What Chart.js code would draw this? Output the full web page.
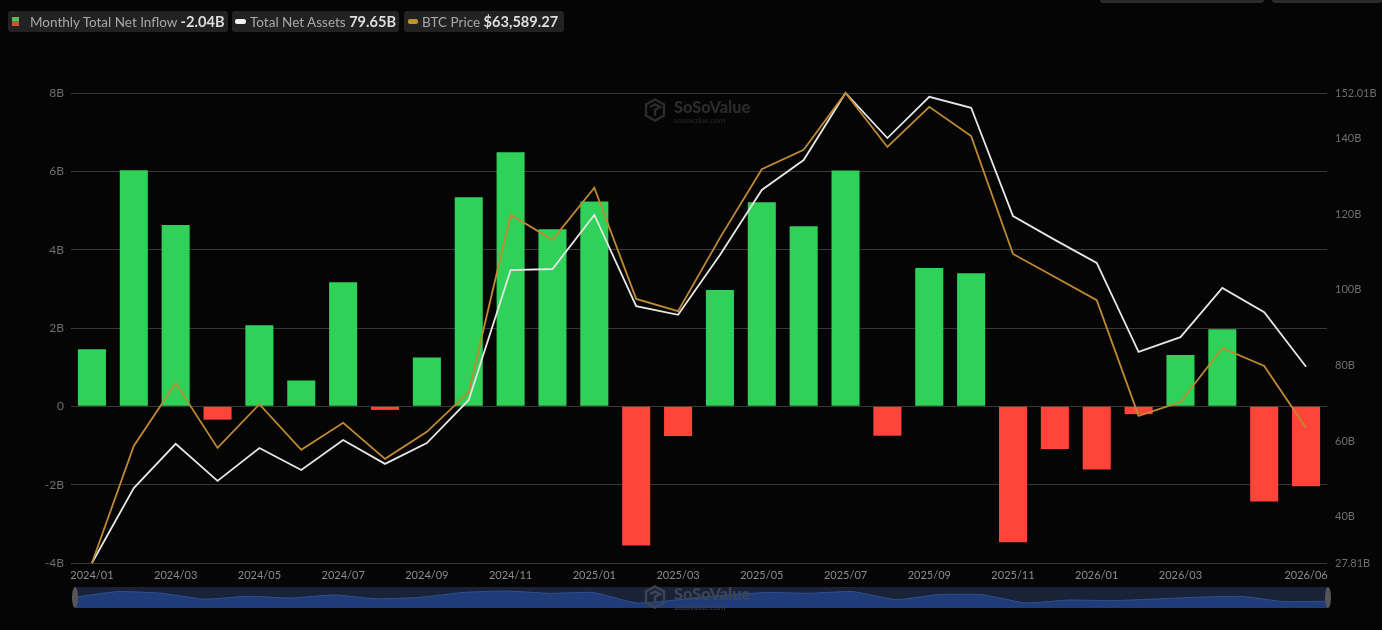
<!DOCTYPE html>
<html>
<head>
<meta charset="utf-8">
<title>Monthly Total Net Inflow</title>
<script src="https://cdn.jsdelivr.net/npm/chart.js@4"></script>
<style>
  html, body { margin: 0; padding: 0; background: #050505; overflow: hidden; }
  #wrap { position: relative; width: 1382px; height: 630px; font-family: Lato, sans-serif; }
  #main { position: absolute; left: 0; top: 0; }
  #slider { position: absolute; left: 75px; top: 587px; background: #192237; }
  .chip { position: absolute; top: 11px; height: 21px; line-height: 21px; background: #222222; border-radius: 3px; font-size: 13.5px; color: #a8a8a8; white-space: nowrap; }
  .chip b { color: #dedede; font-size: 14.6px; font-weight: 700; }
  .chip span { position: absolute; top: 0; }
  .mark { position: absolute; }
  .tab { position: absolute; top: 0; height: 3px; background: #2a2a2a; border-radius: 0 0 3px 3px; }
  .handle { position: absolute; top: 587px; width: 6px; height: 21px; background: #565656; border-radius: 50%; }
  .wm { position: absolute; color: #2b2b2b; font-weight: 900; font-size: 16.4px; line-height: 18px; pointer-events: none; }
  .wm small { display: block; font-size: 8px; line-height: 8px; font-weight: 400; }
  .wm svg { position: absolute; left: -30px; top: 0; }
</style>
</head>
<body>
<div id="wrap">
  <canvas id="main" width="1382" height="630"></canvas>
  <canvas id="slider" width="1253" height="21"></canvas>

  <div class="chip" style="left:8px;width:220px">
    <div class="mark" style="left:4px;top:6px;width:7px;height:9px;background:linear-gradient(#30d158 50%,#d0503a 50%)"></div>
    <span style="left:22px">Monthly Total Net Inflow <b>-2.04B</b></span>
  </div>
  <div class="chip" style="left:232px;width:167px">
    <div class="mark" style="left:3px;top:8px;width:11px;height:5px;border-radius:2px;background:#f0f0f0"></div>
    <span style="left:18px">Total Net Assets <b>79.65B</b></span>
  </div>
  <div class="chip" style="left:404px;width:160px">
    <div class="mark" style="left:4px;top:8px;width:10px;height:5px;border-radius:2px;background:#c0922e"></div>
    <span style="left:18px">BTC Price <b>$63,589.27</b></span>
  </div>

  <div class="tab" style="left:1100px;width:164px"></div>
  <div class="tab" style="left:1272px;width:110px"></div>

  <div class="wm" style="left:674px;top:98px">
    <svg width="22" height="24" viewBox="0 0 22 24" fill="none" stroke="#2b2b2b" stroke-width="2.5"><path d="M11 1.5 20 6.5V17.5L11 22.5 2 17.5V6.5Z"/><path d="M6 9 11 6.5 16 9 11 12V18"/></svg>
    SoSoValue<small>sosovalue.com</small>
  </div>
  <div class="wm" style="left:674px;top:585px;color:#3d4554">
    <svg width="22" height="24" viewBox="0 0 22 24" fill="none" stroke="#3d4554" stroke-width="2.5"><path d="M11 1.5 20 6.5V17.5L11 22.5 2 17.5V6.5Z"/><path d="M6 9 11 6.5 16 9 11 12V18"/></svg>
    SoSoValue<small>sosovalue.com</small>
  </div>

  <div class="handle" style="left:72px"></div>
  <div class="handle" style="left:1325px"></div>
</div>

<script>
const months = [
  '2024/01','2024/02','2024/03','2024/04','2024/05','2024/06','2024/07','2024/08','2024/09','2024/10','2024/11','2024/12',
  '2025/01','2025/02','2025/03','2025/04','2025/05','2025/06','2025/07','2025/08','2025/09','2025/10','2025/11','2025/12',
  '2026/01','2026/02','2026/03','2026/04','2026/05','2026/06'
];
const shownMonths = [
  '2024/01','2024/03','2024/05','2024/07','2024/09','2024/11','2025/01','2025/03','2025/05','2025/07','2025/09','2025/11',
  '2026/01','2026/03','2026/06'
];

// billions
const netInflow = [
  1.46, 6.03, 4.63, -0.34, 2.07, 0.66, 3.17, -0.09, 1.25, 5.34, 6.49, 4.52,
  5.23, -3.55, -0.76, 2.97, 5.21, 4.60, 6.02, -0.75, 3.53, 3.40, -3.47, -1.09,
  -1.61, -0.20, 1.31, 1.97, -2.43, -2.04
];
const netAssets = [
  27.81, 47.6, 59.3, 49.5, 58.2, 52.4, 60.3, 54.0, 59.5, 70.9, 105.2, 105.5,
  119.8, 95.7, 93.4, 109.2, 126.4, 134.3, 152.01, 140.1, 151.0, 148.1, 119.5, 113.2,
  107.1, 83.6, 87.5, 100.5, 94.1, 79.65
];
const btcPrice = [
  42580, 60800, 70600, 60500, 67300, 60200, 64400, 58800, 63000, 69200, 96800, 92900,
  101000, 83700, 81800, 93200, 103900, 106900, 115760, 107350, 113600, 109050, 90700, 87100,
  83500, 65500, 67650, 76050, 73250, 63589
];

const leftTicks = [-4, -2, 0, 2, 4, 6, 8];
const rightTicks = [27.81, 40, 60, 80, 100, 120, 140, 152.01];

const GREEN = '#30d158';
const RED = '#ff453a';

new Chart(document.getElementById('main'), {
  data: {
    labels: months,
    datasets: [
      {
        type: 'line',
        label: 'Total Net Assets',
        data: netAssets,
        yAxisID: 'yAssets',
        borderColor: '#e6e6e6',
        borderWidth: 1.8,
        pointRadius: 0,
        tension: 0,
        clip: false,
        order: 2
      },
      {
        type: 'line',
        label: 'BTC Price',
        data: btcPrice,
        yAxisID: 'yBtc',
        borderColor: '#bf8a30',
        borderWidth: 1.8,
        pointRadius: 0,
        tension: 0,
        clip: false,
        order: 1
      },
      {
        type: 'bar',
        label: 'Monthly Total Net Inflow',
        data: netInflow,
        yAxisID: 'yFlow',
        backgroundColor: netInflow.map(v => v >= 0 ? GREEN : RED),
        barPercentage: 0.67,
        categoryPercentage: 1,
        order: 3
      }
    ]
  },
  options: {
    responsive: false,
    animation: false,
    layout: { padding: { top: 93 } },
    plugins: { legend: { display: false }, tooltip: { enabled: false } },
    scales: {
      x: {
        grid: { display: false, drawTicks: false },
        border: { display: false },
        afterFit: function (scale) { scale.height = 67; },
        ticks: {
          autoSkip: false,
          maxRotation: 0,
          padding: 6,
          color: '#8c8c8c',
          font: { family: 'Lato', size: 11 },
          callback: function (value) {
            let m = months[value];
            return shownMonths.includes(m) ? m : '';
          }
        }
      },
      yFlow: {
        position: 'left',
        min: -4,
        max: 8,
        grid: { color: '#383838', lineWidth: 1, drawTicks: false },
        border: { display: false },
        afterBuildTicks: function (scale) { scale.ticks = leftTicks.map(v => ({ value: v })); },
        afterFit: function (scale) { scale.width = 71; },
        ticks: {
          padding: 7,
          color: '#6e6e6e',
          font: { family: 'Lato', size: 12 },
          callback: function (value) { return value === 0 ? '0' : value + 'B'; }
        }
      },
      yAssets: {
        position: 'right',
        min: 27.81,
        max: 152.01,
        grid: { display: false, drawTicks: false },
        border: { display: false },
        afterBuildTicks: function (scale) { scale.ticks = rightTicks.map(v => ({ value: v })); },
        afterFit: function (scale) { scale.width = 55; },
        ticks: {
          padding: 8,
          color: '#6e6e6e',
          font: { family: 'Lato', size: 11 },
          callback: function (value) { return value + 'B'; }
        }
      },
      yBtc: {
        display: false,
        min: 42580,
        max: 115760
      }
    }
  }
});

// range slider under the chart, same inflow series
new Chart(document.getElementById('slider'), {
  type: 'line',
  data: {
    labels: months,
    datasets: [{
      data: netInflow,
      borderColor: '#2f4f8c',
      borderWidth: 1,
      backgroundColor: '#1f3c78',
      fill: 'start',
      pointRadius: 0,
      tension: 0.15
    }]
  },
  options: {
    responsive: false,
    animation: false,
    plugins: { legend: { display: false }, tooltip: { enabled: false } },
    scales: {
      x: { display: false },
      y: { display: false, min: -7.75, max: 9.85 }
    }
  }
});
</script>
</body>
</html>
